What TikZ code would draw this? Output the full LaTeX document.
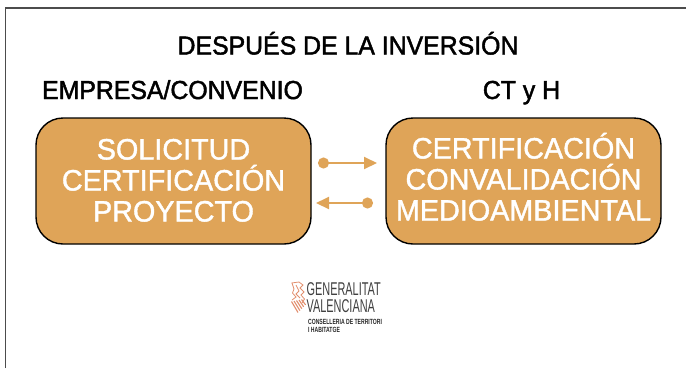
\documentclass[tikz,border=0pt]{standalone}
\usepackage{xcolor}
\usepackage{fontspec}
\setmainfont{Liberation Sans}
\newfontfamily\headfont{Liberation Sans}[FakeBold=1.8,FakeStretch=0.955]
\newfontfamily\panelfont{Liberation Sans}[FakeBold=1.4,FakeStretch=0.975]
\usetikzlibrary{arrows.meta,positioning,calc}
\definecolor{boxorange}{HTML}{DFA458}
\definecolor{crestorange}{HTML}{E28F6E}

\begin{document}
\begin{tikzpicture}[
    x=1pt, y=-1pt,
    node distance=75pt,
    heading/.style={font=\headfont\fontsize{26}{29}\selectfont, text=black, inner sep=0pt, anchor=base},
    panel/.style={draw=black, line width=1.4pt, fill=boxorange, rounded corners=27pt, minimum width=275pt, minimum height=126pt, align=center, inner sep=0pt, text=white, text height=83pt, text depth=2pt, font=\panelfont\fontsize{29.5}{31}\selectfont},
    link/.style={draw=boxorange, line width=2pt, {Circle[length=11pt,width=11pt]}-{Triangle[length=13pt,width=12pt]}},
    logoname/.style={inner sep=0pt, anchor=base west, text=black!75, font=\fontsize{18.5}{19}\selectfont, xscale=0.59},
    logodept/.style={inner sep=0pt, anchor=base west, text=black!85, font=\fontsize{7.5}{8}\selectfont\bfseries, xscale=0.68},
    crest/.style={crestorange, line width=0.8pt}
]
    \useasboundingbox (0,0) rectangle (686,368);
    \draw [black!70, line width=1.2pt] (5.5,368) -- (5.5,8) -- (686,8);

    \node [panel] (request) at (173.5,181) {SOLICITUD\\CERTIFICACIÓN\\PROYECTO};
    \node [panel, text height=81pt] (certif) at (523.5,181) {CERTIFICACIÓN\\CONVALIDACIÓN\\MEDIOAMBIENTAL};

    \node [heading] (title) at (348,54.5) {DESPUÉS DE LA INVERSIÓN};
    \node [heading] (company) at (172.5,99) {EMPRESA/CONVENIO};
    \node [heading] (cth) at (521.5,99) {CT y H};

    % Arrows between the boxes
    \coordinate (a) at (318,163);
    \coordinate (b) at (377,163);
    \coordinate (c) at (373,203);
    \coordinate (d) at (316,203);
    \draw [link] (a) -- (b);
    \draw [link] (c) -- (d);

    % Logo
    \draw [crest] (291.5,283) -- (299,282) -- (303,285) -- (300,288) -- (304,292) -- (301,295) -- (304.5,299) -- (302,303);
    \draw [crest] (292,283) -- (294,289) -- (292.5,293) -- (296,297) -- (292,300);
    \draw [crest] (296,285) -- (299,291) -- (296,294) -- (300,298);
    \foreach \i in {0,1,2,3,4}
        \draw [crest, line width=1.1pt] ($(291.5,301.5)+(\i*2.5,-0.5*\i)$) -- ++(6.5-\i*0.6,11-\i*1.4);
    \node [logoname] (gen) at (306.5,295) {GENERALITAT};
    \node [logoname] (val) at (306.5,312) {VALENCIANA};
    \node [logodept] (dept) at (308,324) {CONSELLERIA DE TERRITORI};
    \node [logodept] (dept2) at (308,332) {I HABITATGE};
\end{tikzpicture}
\end{document}
